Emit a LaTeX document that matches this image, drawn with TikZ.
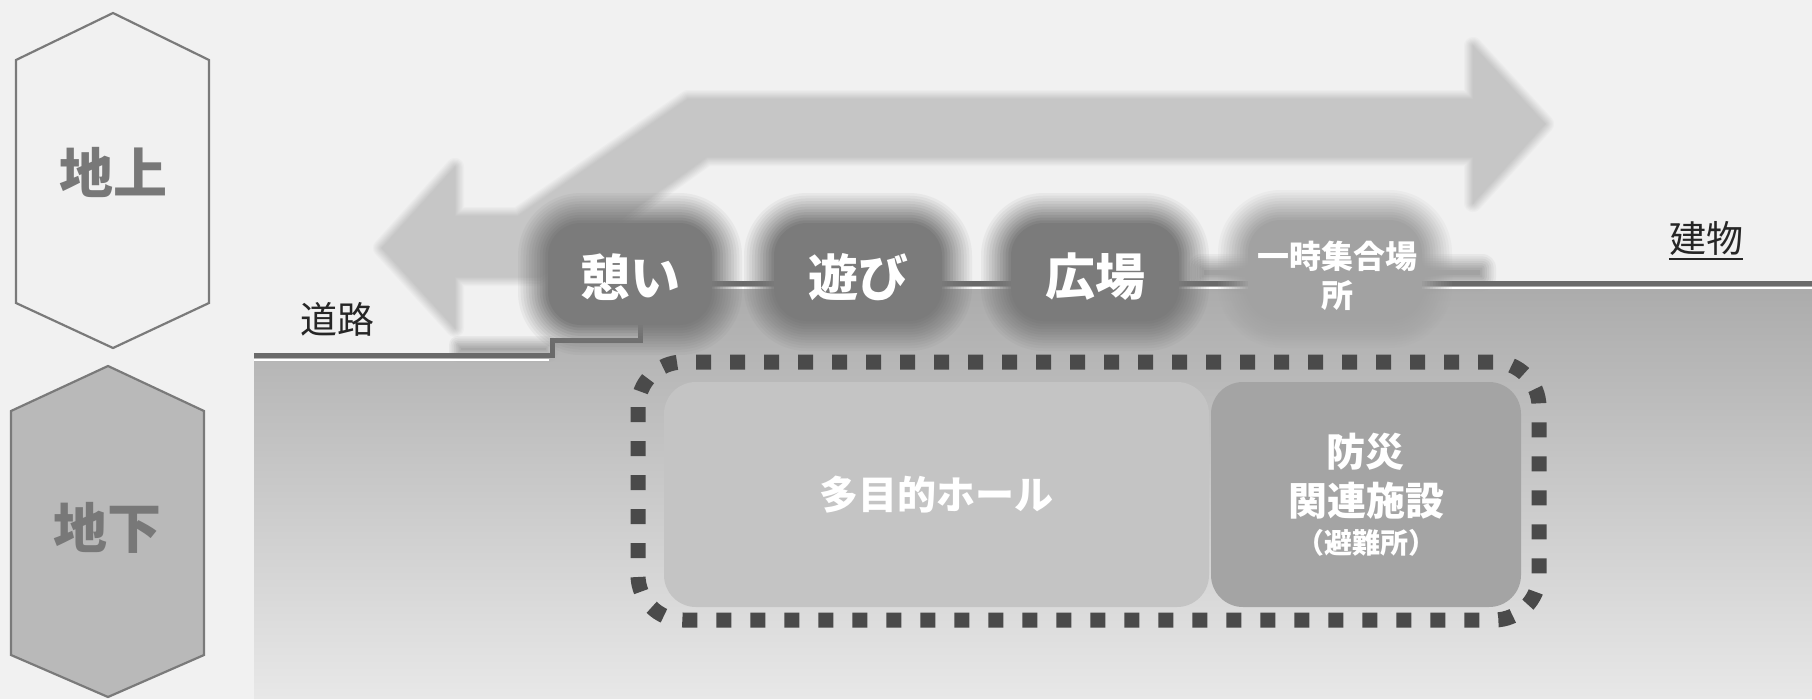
\documentclass[tikz,border=0pt]{standalone}
\usepackage{fontspec}
\newfontfamily\jp{Noto Sans CJK JP}
\definecolor{bgc}{HTML}{F1F1F1}
\definecolor{arrowc}{HTML}{C6C6C6}
\definecolor{bubc}{HTML}{7B7B7B}
\definecolor{bubl}{HTML}{A2A2A2}
\definecolor{pedc}{HTML}{A8A8A8}
\definecolor{groundtop}{HTML}{ABABAB}
\definecolor{groundbot}{HTML}{E8E8E8}
\definecolor{linec}{HTML}{6A6A6A}
\definecolor{hallc}{HTML}{C4C4C4}
\definecolor{bousaic}{HTML}{A4A4A4}
\definecolor{dashc}{HTML}{4A4A4A}
\definecolor{hexline}{HTML}{7A7A7A}
\definecolor{hexfill}{HTML}{B9B9B9}
\definecolor{labelc}{HTML}{787878}
% soft-edged polygon: colour, radius, steps, path
\newcommand{\softfill}[4]{%
  \foreach \k in {1,...,#3}{%
    \pgfmathsetmacro{\aa}{1/(#3-\k+2)}%
    \path[draw=#1, line width={2*#2*(#3+1-\k)/#3}, draw opacity=\aa, line join=round] #4;
  }%
  \fill[#1] #4;
}
% soft-edged rounded rectangle: colour, x1, y1, x2, y2, corner radius, blur radius, steps
\newcommand{\blurrect}[8]{%
  \foreach \m in {1,...,#8}{%
    \pgfmathsetmacro{\dd}{#7*(1-2*(\m-1)/(#8-1))}%
    \pgfmathsetmacro{\aa}{1/(#8-\m+1)}%
    \pgfmathsetmacro{\rr}{max(#6+\dd,0.5)}%
    \fill[#1, fill opacity=\aa, rounded corners=\rr pt] ({#2-\dd},{#3-\dd}) rectangle ({#4+\dd},{#5+\dd});
  }%
}
\tikzset{
  biglbl/.style={font=\jp\bfseries\fontsize{54}{60}\selectfont, text=labelc},
  bubtxt/.style={font=\jp\bfseries\fontsize{50}{56}\selectfont, text=white},
  smalltxt/.style={font=\jp\bfseries\fontsize{32}{36}\selectfont, text=white},
  plaintxt/.style={font=\jp\fontsize{37}{42}\selectfont, text=black!85, inner sep=0pt},
  boxtxt/.style={font=\jp\bfseries\fontsize{39}{44}\selectfont, text=white},
  parentxt/.style={font=\jp\bfseries\fontsize{28}{32}\selectfont, text=white},
  groundline/.style={linec, line width=5pt},
  whiteline/.style={white, line width=2pt},
}
\begin{document}
\begin{tikzpicture}[x=1pt,y=-1pt]
\useasboundingbox (0,0) rectangle (1812,699);
\fill[bgc] (0,0) rectangle (1812,699);
% hexagons
\draw[hexline, line width=2.2pt, fill=bgc] (113,13) -- (209,60) -- (209,303) -- (113,348) -- (16,303) -- (16,60) -- cycle;
\node[biglbl] (up) at (113,172) {地上};
\draw[hexline, line width=2.2pt, fill=hexfill] (108,366) -- (204,411) -- (204,655) -- (108,697) -- (11,655) -- (11,411) -- cycle;
\node[biglbl] (down) at (107,528) {地下};
% ground
\shade[top color=groundtop, bottom color=groundbot] (254,355) -- (552,355) -- (552,340) -- (640,340) -- (640,283) -- (1812,283) -- (1812,699) -- (254,699) -- cycle;
% big arrow
\softfill{arrowc}{9}{8}{(382,248) -- (455,167) -- (455,216) -- (518,216) -- (688,99) -- (1473,99) -- (1473,46) -- (1545,124) -- (1473,203) -- (1473,157) -- (707,157) -- (539,277) -- (455,277) -- (455,328) -- cycle}
% pedestal and base
\blurrect{pedc}{455}{342}{552}{356}{3}{6}{8}
\blurrect{bubl}{1196}{262}{1488}{283}{6}{8}{8}
% ground line
\draw[whiteline] (254,360) -- (549,360);
\draw[whiteline] (640,288) -- (1812,288);
\draw[groundline] (254,355) -- (552,355) -- (552,340) -- (640,340) -- (640,283) -- (1812,283);
% bubbles
\blurrect{bubc}{533}{208}{727}{340}{48}{15}{12}
\blurrect{bubc}{759}{208}{957}{336}{48}{15}{12}
\blurrect{bubc}{996}{208}{1194}{336}{48}{15}{12}
\blurrect{bubl}{1233}{205}{1437}{333}{48}{15}{12}
\node[bubtxt] (ikoi) at (630,277) {憩い};
\node[bubtxt] (asobi) at (858,277) {遊び};
\node[bubtxt] (hiroba) at (1095,277) {広場};
\node[smalltxt] (ichiji) at (1337,256) {一時集合場};
\node[smalltxt] (sho) at (1337,296) {所};
% labels
\node[plaintxt] (road) at (337,319) {道路};
\node[plaintxt] (bld) at (1706,238) {建物};
\draw[black!85, line width=2pt] ([yshift=-4pt]bld.south west) -- ([yshift=-4pt]bld.south east);
% underground
\node[fill=hallc, rounded corners=32pt, minimum width=545pt, minimum height=225pt, inner sep=0pt] (hall) at (936.5,494.5) {};
\node[fill=bousaic, rounded corners=32pt, minimum width=310pt, minimum height=225pt, inner sep=0pt] (bousai) at (1366,494.5) {};
\node[boxtxt] (hallt) at (hall.center) {多目的ホール};
\node[boxtxt] (b1) at (1365,452) {防災};
\node[boxtxt] (b2) at (1366,501) {関連施設};
\node[parentxt] (b3) at (1366,543) {（避難所）};
\draw[dashc, line width=15pt, dash pattern=on 15pt off 19pt, rounded corners=45pt] (638,362) rectangle (1539,620);
\end{tikzpicture}
\end{document}
